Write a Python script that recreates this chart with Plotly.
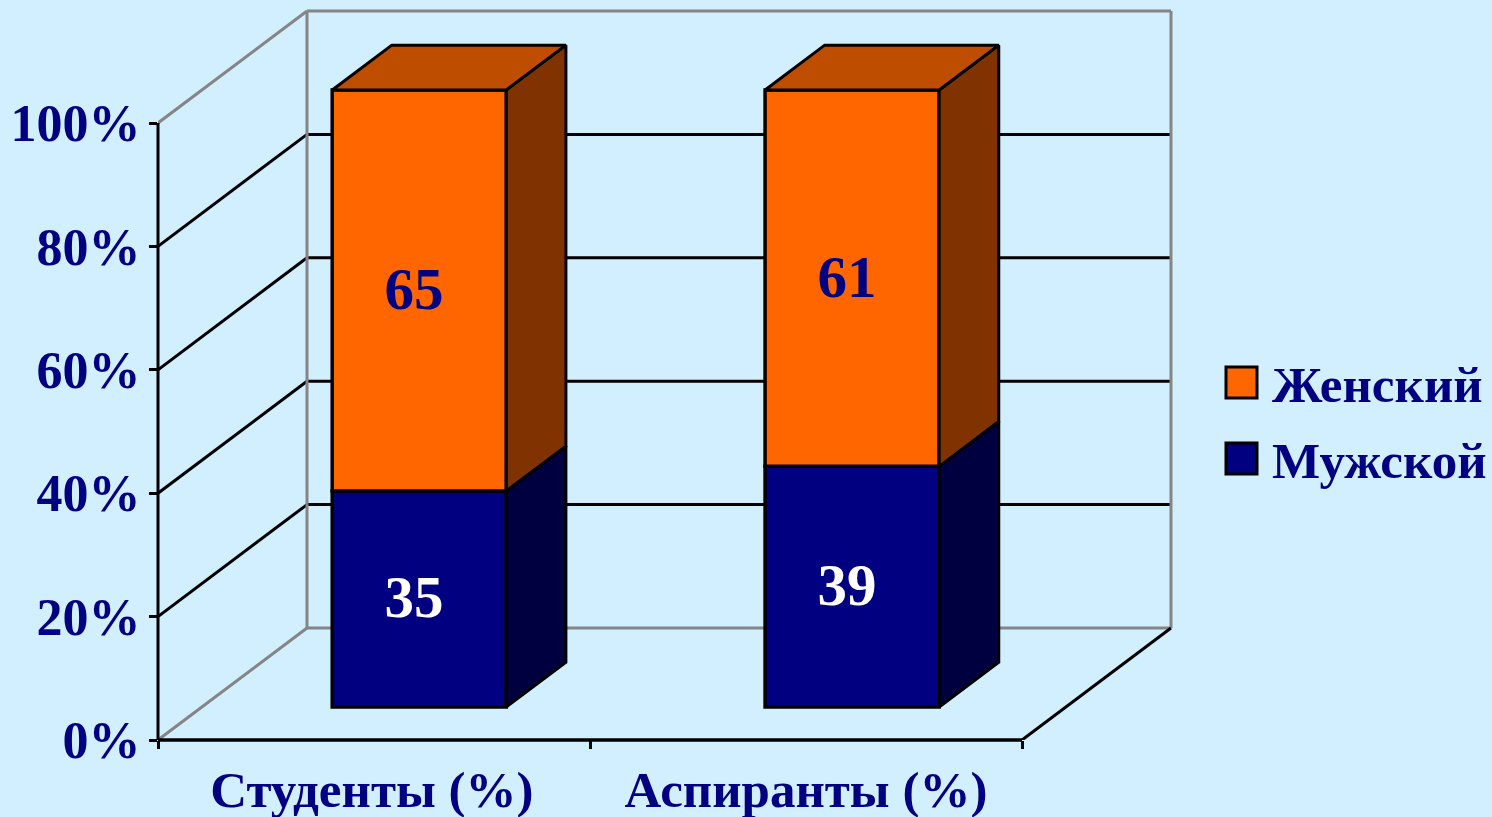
import plotly.graph_objects as go

categories = ["Студенты (%)", "Аспиранты (%)"]
male = [35, 39]
female = [65, 61]
series_names = ["Женский", "Мужской"]
y_ticks = [0, 20, 40, 60, 80, 100]
y_tick_labels = ["0%", "20%", "40%", "60%", "80%", "100%"]

W, H = 1492, 817
L, B = 158, 77
PX_X, PX_Y = 432.0, 6.17      # pixels per category / per percent
X_MAX, Y_MAX = (W - L) / PX_X, (H - B) / PX_Y
DX, DY = 149 / PX_X, 112 / PX_Y  # full-depth shift in axis units
BAR_D0, BAR_D1 = 0.295, 0.695
BAR_W = 0.403
CENTERS = [0.503, 1.505]
LABEL_SHIFT_X, LABEL_SHIFT_Y = -0.012, -0.6

BG = "#D1EFFF"
NAVY = "#000080"
ORANGE = "#FF6600"
SERIF = "'Liberation Serif', 'Times New Roman', serif"
GREY = "#858585"


def proj(x, y, d):
    return x + d * DX, y + d * DY


def pxx(p):
    return (p - L) / (W - L)


def pxy(p):
    return (H - B - p) / (H - B)


fig = go.Figure()
shapes = []


def seg(p, q, color, width=3):
    shapes.append(dict(type="line", xref="x", yref="y", layer="below",
                       x0=p[0], y0=p[1], x1=q[0], y1=q[1],
                       line=dict(color=color, width=width)))


# Walls and gridlines
for t in y_ticks[1:-1]:
    seg(proj(0, t, 0), proj(0, t, 1), "#000000")
    seg(proj(0, t, 1), proj(2, t, 1), "#000000")
seg(proj(0, 100, 0), proj(0, 100, 1), GREY)
seg(proj(0, 100, 1), proj(2, 100, 1), GREY)
seg(proj(0, 0, 1), proj(2, 0, 1), GREY)
seg(proj(0, 0, 1), proj(0, 100, 1), GREY)
seg(proj(2, 0, 1), proj(2, 100, 1), GREY)
seg(proj(0, 0, 0), proj(0, 0, 1), GREY)
seg(proj(2, 0, 0), proj(2, 0, 1), "#000000")

# Axis lines in paper coordinates, so they are not clipped at the plot edge
shapes.append(dict(type="line", xref="paper", yref="paper", layer="above",
                   x0=0, y0=0, x1=2 / X_MAX, y1=0, line=dict(color="#000000", width=3.5)))
shapes.append(dict(type="line", xref="paper", yref="paper", layer="above",
                   x0=0, y0=0, x1=0, y1=100 / Y_MAX, line=dict(color="#000000", width=3)))


def poly(pts, fill):
    xs = [p[0] for p in pts] + [pts[0][0]]
    ys = [p[1] for p in pts] + [pts[0][1]]
    fig.add_trace(go.Scatter(x=xs, y=ys, mode="lines", fill="toself", fillcolor=fill,
                             line=dict(color="#000000", width=3), showlegend=False,
                             hoverinfo="skip", cliponaxis=False))


bar_x = [proj(c, 0, BAR_D0)[0] for c in CENTERS]
front_base = proj(0, 0, BAR_D0)[1]

fig.add_trace(go.Bar(x=bar_x, y=male, base=[front_base] * 2, width=BAR_W, name=series_names[1],
                     marker=dict(color=NAVY, line=dict(color="#000000", width=3.5)),
                     cliponaxis=False, showlegend=False))
fig.add_trace(go.Bar(x=bar_x, y=female, base=[front_base + v for v in male], width=BAR_W, name=series_names[0],
                     marker=dict(color=ORANGE, line=dict(color="#000000", width=3.5)),
                     cliponaxis=False, showlegend=False))

for c, m, f in zip(CENTERS, male, female):
    xr = c + BAR_W / 2
    xl = c - BAR_W / 2
    poly([proj(xr, 0, BAR_D0), proj(xr, 0, BAR_D1), proj(xr, m, BAR_D1), proj(xr, m, BAR_D0)], "#000040")
    poly([proj(xr, m, BAR_D0), proj(xr, m, BAR_D1), proj(xr, m + f, BAR_D1), proj(xr, m + f, BAR_D0)], "#803300")
    poly([proj(xl, m + f, BAR_D0), proj(xl, m + f, BAR_D1), proj(xr, m + f, BAR_D1), proj(xr, m + f, BAR_D0)], "#BF4D00")

# Value labels
label_x = [x + LABEL_SHIFT_X for x in bar_x]
fig.add_trace(go.Scatter(x=label_x, y=[front_base + v / 2 + LABEL_SHIFT_Y for v in male], mode="text",
                         text=[str(v) for v in male], textposition="middle center",
                         textfont=dict(family=SERIF, size=59, color="#FFFFFF", weight="bold"),
                         showlegend=False, hoverinfo="skip", cliponaxis=False))
fig.add_trace(go.Scatter(x=label_x, y=[front_base + m + f / 2 + LABEL_SHIFT_Y for m, f in zip(male, female)], mode="text",
                         text=[str(v) for v in female], textposition="middle center",
                         textfont=dict(family=SERIF, size=59, color=NAVY, weight="bold"),
                         showlegend=False, hoverinfo="skip", cliponaxis=False))

# Legend
swatches = [(series_names[0], ORANGE, 367, 398, 385), (series_names[1], NAVY, 443, 474, 461)]
annotations = []
for name, col, top, bottom, mid in swatches:
    shapes.append(dict(type="rect", xref="paper", yref="paper", layer="above",
                       x0=pxx(1226), x1=pxx(1257), y0=pxy(bottom), y1=pxy(top),
                       fillcolor=col, line=dict(color="#000000", width=3)))
    annotations.append(dict(text=name, xref="paper", yref="paper", x=pxx(1270), y=pxy(mid),
                            xanchor="left", yanchor="middle", showarrow=False,
                            font=dict(family=SERIF, size=51, color=NAVY, weight="bold")))

fig.update_layout(
    width=W, height=H, margin=dict(l=L, r=0, t=0, b=B, pad=0, autoexpand=False),
    paper_bgcolor=BG, plot_bgcolor=BG, showlegend=False, barmode="overlay",
    shapes=shapes, annotations=annotations,
    xaxis=dict(range=[0, X_MAX], tickmode="array", tickvals=[0.495, 1.5], ticktext=categories,
               ticklen=0, showgrid=False, zeroline=False, showline=False, automargin=False,
               tickfont=dict(family=SERIF, size=51, color=NAVY, weight="bold"),
               ticklabelstandoff=15,
               minor=dict(tickmode="array", tickvals=[0, 1, 2], ticks="outside", ticklen=8,
                          tickwidth=2.5, tickcolor="#000000", showgrid=False)),
    yaxis=dict(range=[0, Y_MAX], tickmode="array", tickvals=y_ticks, ticktext=y_tick_labels,
               ticks="outside", ticklen=8, tickwidth=3, tickcolor="#000000",
               showgrid=False, zeroline=False, showline=False, automargin=False,
               ticklabelstandoff=-2,
               tickfont=dict(family=SERIF, size=52, color=NAVY, weight="bold")),
)

fig.write_html("out.html", post_script="document.body.style.margin='0';document.body.style.background='%s';" % BG,
               config=dict(displayModeBar=False))
